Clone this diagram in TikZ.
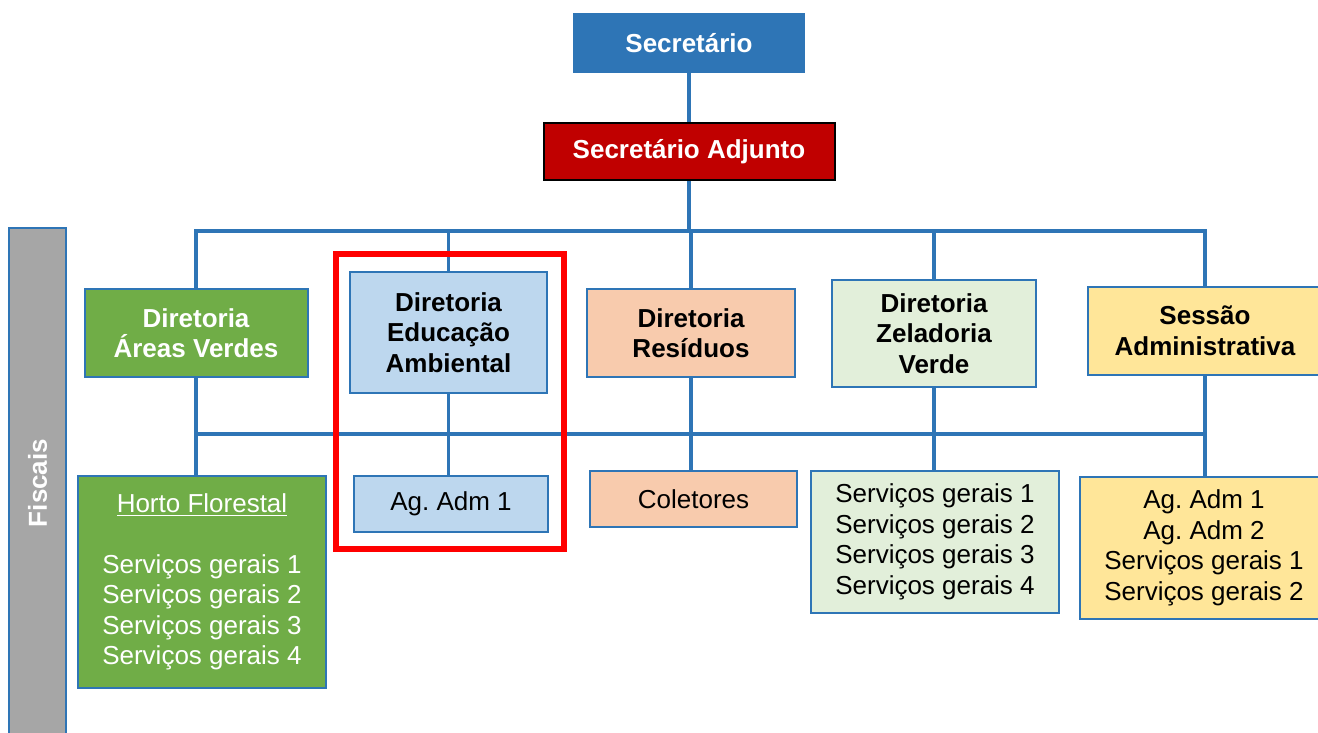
\documentclass[tikz,border=0pt]{standalone}
\usepackage{fontspec}
\setmainfont{Liberation Sans}
\frenchspacing
\definecolor{lineblue}{HTML}{2E75B6}
\definecolor{secblue}{HTML}{2E75B6}
\definecolor{adjred}{HTML}{C00000}
\definecolor{avgreen}{HTML}{70AD47}
\definecolor{eablue}{HTML}{BDD7EE}
\definecolor{repeach}{HTML}{F8CBAD}
\definecolor{zvgreen}{HTML}{E2EFDA}
\definecolor{sayellow}{HTML}{FFE699}
\definecolor{fisgray}{HTML}{A6A6A6}
\newcommand\thickul[1]{\setbox0\hbox{#1}\rlap{\rule[-4pt]{\wd0}{1.8pt}}\box0}
\tikzset{
  box/.style={draw=lineblue, line width=2pt, rectangle, align=center, inner sep=0pt,
    font=\fontsize{26}{30.5}\selectfont},
  hdr/.style={box, font=\fontsize{26}{30.5}\selectfont\bfseries},
  conn/.style={draw=lineblue, line width=3.5pt},
}
\begin{document}
\begin{tikzpicture}[x=1pt,y=-1pt]
\useasboundingbox (0,0) rectangle (1318,733);
% top
\node[hdr, fill=secblue, text=white, minimum width=230, minimum height=58] (sec) at (689,43) {Secretário};
\node[hdr, draw=black, fill=adjred, text=white, minimum width=291, minimum height=57] (adj) at (689,151.5) {Secretário Adjunto};
% directors
\node[hdr, fill=avgreen, text=white, minimum width=223, minimum height=88] (av) at (196,333) {Diretoria\\Áreas Verdes};
\node[hdr, fill=eablue, minimum width=197, minimum height=121] (ea) at (448.5,332.5) {Diretoria\\Educação\\Ambiental};
\node[hdr, fill=repeach, minimum width=208, minimum height=88] (re) at (691,333) {Diretoria\\Resíduos};
\node[hdr, fill=zvgreen, minimum width=204, minimum height=107] (zv) at (934,333.5) {Diretoria\\Zeladoria\\Verde};
\node[hdr, fill=sayellow, minimum width=234, minimum height=88] (sa) at (1205,331) {Sessão\\Administrativa};
% subordinates
\node[box, fill=avgreen, text=white, minimum width=248, minimum height=212] (hf) at (202,582)
  {\thickul{Horto Florestal}\\[30.5pt]Serviços gerais 1\\Serviços gerais 2\\Serviços gerais 3\\Serviços gerais 4};
\node[box, fill=eablue, minimum width=194, minimum height=56] (aa) at (451,504) {Ag. Adm 1};
\node[box, fill=repeach, minimum width=207, minimum height=56] (co) at (693.5,499) {Coletores};
\node[box, fill=zvgreen, minimum width=248, minimum height=142] (zs) at (935,542)
  {Serviços gerais 1\\Serviços gerais 2\\Serviços gerais 3\\Serviços gerais 4};
\node[box, fill=sayellow, minimum width=248, minimum height=142] (ss) at (1204,548)
  {Ag. Adm 1\\Ag. Adm 2\\Serviços gerais 1\\Serviços gerais 2};
% fiscais bar
\node[box, fill=fisgray, text=white, rotate=90, minimum width=511, minimum height=57,
  font=\fontsize{26}{30.5}\selectfont\bfseries] (fis) at (37.5,483) {Fiscais};
% bus coordinates
\coordinate (bus1) at (689,231);
\coordinate (bus2) at (689,434);
% connectors
\draw[conn] (sec.south) -- (adj.north);
\draw[conn] (adj.south) -- (bus1);
\draw[conn] (av.north) |- (bus1);
\draw[conn] (ea.north) |- (bus1);
\draw[conn] (re.north) |- (bus1);
\draw[conn] (zv.north) |- (bus1);
\draw[conn] (sa.north) |- (bus1);
\draw[conn] (av.south |- bus2) -- (sa.south |- bus2);
\draw[conn] (av.south) -- (av.south |- hf.north);
\draw[conn] (ea.south) -- (ea.south |- aa.north);
\draw[conn] (re.south) -- (re.south |- co.north);
\draw[conn] (zv.south) -- (zv.south |- zs.north);
\draw[conn] (sa.south) -- (sa.south |- ss.north);
% highlight
\node[draw=red, line width=6pt, rectangle, minimum width=228, minimum height=295, inner sep=0pt] (focus) at (450,401.5) {};
\end{tikzpicture}
\end{document}
